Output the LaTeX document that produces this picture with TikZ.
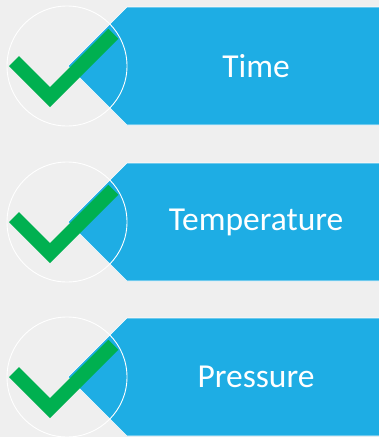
\documentclass[tikz,border=0pt]{standalone}
\usepackage{fontspec}
\setmainfont{Carlito}
\usetikzlibrary{positioning}

\definecolor{bggray}{HTML}{EFEFEF}
\definecolor{tagblue}{HTML}{1EADE4}
\definecolor{tickgreen}{HTML}{00B050}

\begin{document}
\begin{tikzpicture}[
  x=1pt, y=-1pt,
  tag/.style={fill=tagblue, draw=white, line width=0.6pt},
  ring/.style={draw=white, line width=0.9pt},
  tick/.style={fill=tickgreen},
  label/.style={text=white, font=\fontsize{33.5}{40}\selectfont, inner sep=0pt}
]

% Background
\fill[bggray] (0,0) rectangle (379,437);
\useasboundingbox (0,0) rectangle (379,437);

% Rows
\foreach \cy/\txt [count=\i] in {66/Time, 222/Temperature, 377/Pressure} {
  \fill[tag] (127,\cy-59) -- (381,\cy-59) -- (381,\cy+59) -- (127,\cy+59) -- (68,\cy) -- cycle;
  \draw[ring] (67,\cy) circle[radius=60pt];
  \fill[tick] (-58+67,\cy) -- (-48+67,\cy-10) -- (-16.9+67,\cy+21.1) -- (41.4+67,\cy-37.2)
    -- (51.3+67,\cy-27.3) -- (-17+67,\cy+41) -- cycle;
  \node[label] (item-\i) at (256,\cy) {\txt};
}

\end{tikzpicture}
\end{document}
